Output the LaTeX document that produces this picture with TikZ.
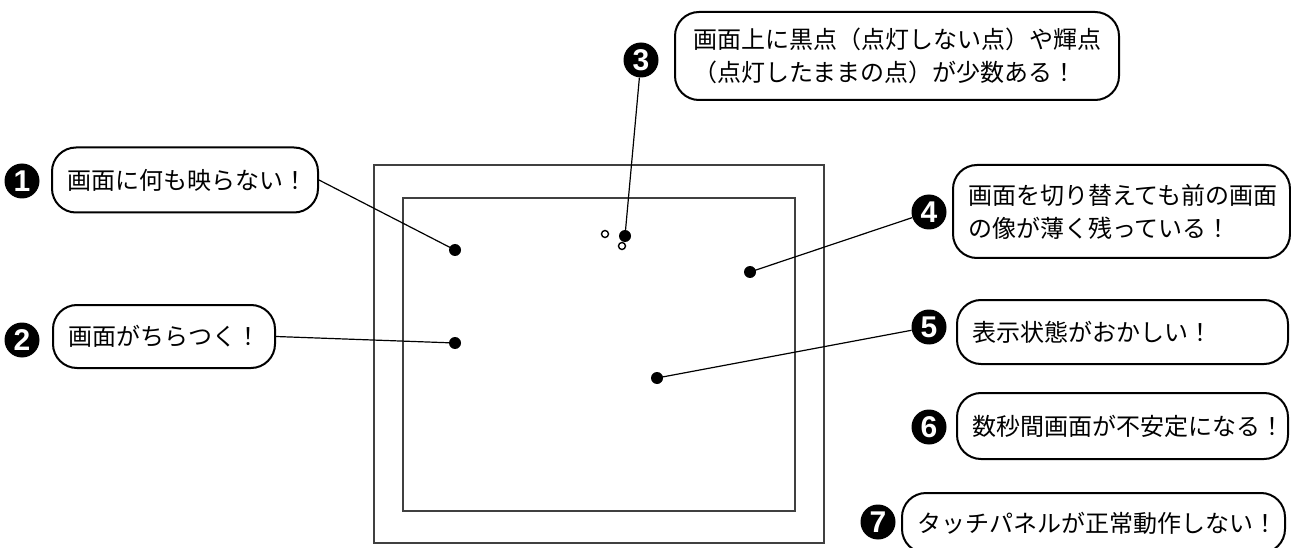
\documentclass[tikz,border=0pt]{standalone}
\usepackage{fontspec}
\newfontfamily\jpf{Noto Sans CJK JP}
\newfontfamily\numfont{Liberation Sans}
\begin{document}
\begin{tikzpicture}[x=1pt,y=-1pt,
  bubble/.style={draw, line width=2pt, rounded corners=24pt, inner xsep=15pt, inner ysep=0pt, align=left, font=\jpf\fontsize{24}{33}\selectfont},
  num/.style={circle, fill=black, text=white, minimum size=35pt, inner sep=0pt, font=\numfont\bfseries\fontsize{30}{30}\selectfont},
  dot/.style={circle, fill=black, minimum size=12pt, inner sep=0pt},
  ring/.style={circle, draw, line width=1.4pt, minimum size=7pt, inner sep=0pt},
  conn/.style={line width=1.2pt},
  frame/.style={draw=black!75, line width=1.6pt}]
\useasboundingbox (0,0) rectangle (1291,548);
\clip (0,0) rectangle (1291,548);
% monitor frames
\draw[frame] (374,165) rectangle (824,543);
\draw[frame] (403,198) rectangle (795,511);
% dots
\node[dot] (d1) at (455,250) {};
\node[dot] (d2) at (455,343) {};
\node[dot] (d3) at (625,236) {};
\node[dot] (d4) at (750,272) {};
\node[dot] (d5) at (657,378) {};
\node[ring] (r1) at (605,234) {};
\node[ring] (r2) at (622,246) {};
% bubbles
\node[bubble, minimum height=65pt, text width=236pt] (b1) at (185,180) {画面に何も映らない！};
\node[bubble, minimum height=63pt, text width=192pt] (b2) at (164,336.5) {画面がちらつく！};
\node[bubble, minimum height=88pt, text width=408pt, inner xsep=18pt] (b3) at (897,56) {画面上に黒点（点灯しない点）や輝点\\（点灯したままの点）が少数ある！};
\node[bubble, minimum height=93pt, text width=307pt] (b4) at (1121.5,211.5) {画面を切り替えても前の画面\\の像が薄く残っている！};
\node[bubble, minimum height=64pt, text width=301pt] (b5) at (1122.5,332) {表示状態がおかしい！};
\node[bubble, minimum height=66pt, text width=301pt] (b6) at (1122.5,426) {数秒間画面が不安定になる！};
\node[bubble, minimum height=60pt, text width=353pt] (b7) at (1093.5,523) {タッチパネルが正常動作しない！};
% numbers
\node[num] (n1) at (22,181) {1};
\node[num] (n2) at (22,340) {2};
\node[num] (n3) at (641,60) {3};
\node[num] (n4) at (929,212) {4};
\node[num] (n5) at (929,327) {5};
\node[num] (n6) at (929,427) {6};
\node[num] (n7) at (878,522) {7};
% connectors
\draw[conn] (b1.east) -- (d1.center);
\draw[conn] (b2.east) -- (d2.center);
\draw[conn] (n3) -- (d3.center);
\draw[conn] (d4.center) -- (n4);
\draw[conn] (d5.center) -- (n5);
\end{tikzpicture}
\end{document}
